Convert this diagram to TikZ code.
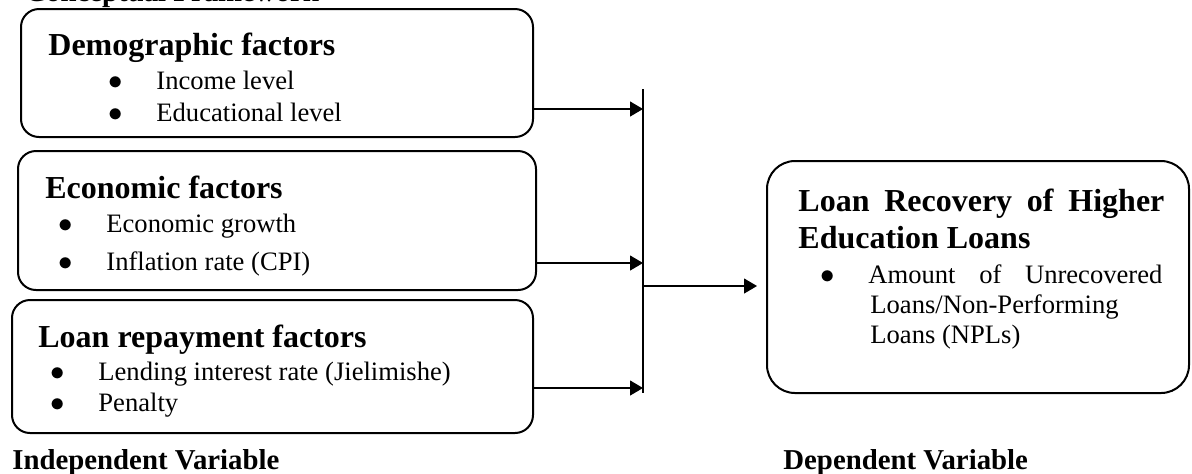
\documentclass[tikz,border=0pt]{standalone}
\usepackage{fontspec}
\setmainfont{Liberation Serif}
\usepackage{tikz}
\usetikzlibrary{arrows.meta}

\newcommand{\bul}{\makebox[24pt][l]{$\bullet$}}

\begin{document}
\begin{tikzpicture}[x=0.5pt, y=-0.5pt,
    box/.style={draw=black, line width=1pt, rounded corners=9pt, inner sep=0pt},
    boxhead/.style={anchor=base west, inner sep=0pt, font=\fontsize{16}{19}\selectfont\bfseries},
    bulitem/.style={anchor=base west, inner sep=0pt, font=\fontsize{13.3}{16}\selectfont},
    varname/.style={anchor=base west, inner sep=0pt, font=\fontsize{14.4}{17}\selectfont\bfseries},
    arr/.style={-{Triangle[length=6.5pt, width=7.5pt]}, line width=0.6pt}]
			\useasboundingbox (0,0) rectangle (1192,473);
			
			% Title (cut at the top)
			\begin{scope}
				\clip (0,0) rectangle (1192,473);
				\node[varname] (title) at (25,1.5) {Conceptual Framework};
			\end{scope}
			
			% Nodes
			\node[box, minimum width=256pt, minimum height=64pt] (dem) at (277,73) {};
			\node[box, minimum width=259pt, minimum height=69.5pt] (eco) at (277,220.5) {};
			\node[box, minimum width=260.5pt, minimum height=66.5pt] (rep) at (272.5,366.5) {};
			\node[box, rounded corners=14pt, minimum width=211pt, minimum height=116pt] (rec) at (978,277) {};
			
			\node[boxhead] (demhead) at (48,55) {Demographic factors};
			\node[bulitem] (income) at (108,89) {\bul Income level};
			\node[bulitem] (educ) at (108,121) {\bul Educational level};
			
			\node[boxhead] (ecohead) at (45,198) {Economic factors};
			\node[bulitem] (growth) at (58,232) {\bul Economic growth};
			\node[bulitem] (infl) at (58,270) {\bul Inflation rate (CPI)};
			
			\node[boxhead] (rephead) at (38,347) {Loan repayment factors};
			\node[bulitem] (lend) at (50,380) {\bul Lending interest rate (Jielimishe)};
			\node[bulitem] (pen) at (50,411) {\bul Penalty};
			
			\node[boxhead] (rechead) at (798,211) {\makebox[183pt][s]{Loan Recovery of Higher}};
			\node[boxhead] (rechead2) at (798,248) {Education Loans};
			\node[bulitem] (amount) at (820,283) {\bul\makebox[147pt][s]{Amount of Unrecovered}};
			\node[bulitem] (npl) at (870,313) {Loans/Non-Performing};
			\node[bulitem] (npl2) at (870,343) {Loans (NPLs)};
			
			\node[varname] (indep) at (12,469) {Independent Variable};
			\node[varname] (dep) at (783,469) {Dependent Variable};
			
			% Edges
			\coordinate (bartop) at (643,89);
			\coordinate (barbot) at (643,393);
			\coordinate (j1) at (643,109);
			\coordinate (j2) at (643,263);
			\coordinate (j3) at (643,388);
			\coordinate (jout) at (643,286);
			\draw[line width=0.6pt] (bartop) -- (barbot);
			\draw[arr] (dem.east |- j1) -- (j1);
			\draw[arr] (eco.east |- j2) -- (j2);
			\draw[arr] (rep.east |- j3) -- (j3);
			\draw[arr, shorten >=4.5pt] (jout) -- (rec.west |- jout);
		\end{tikzpicture}
\end{document}
